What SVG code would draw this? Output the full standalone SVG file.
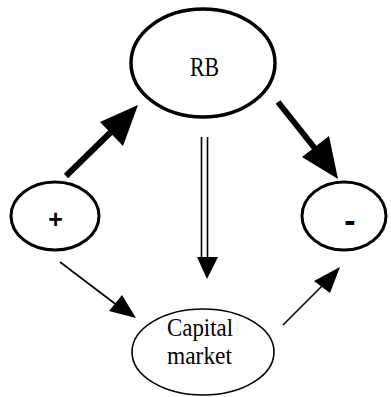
<svg xmlns="http://www.w3.org/2000/svg" width="391" height="397" viewBox="0 0 391 397">
<style>
.t{font-family:"Liberation Serif","Times New Roman",serif;fill:#000;text-anchor:middle;font-size:22px}
.s{font-family:"Liberation Sans",Arial,sans-serif;font-weight:bold;fill:#000;text-anchor:middle}
.n{fill:#fff;stroke:#000}
.thick{stroke:#000;stroke-width:6;fill:none}
.thin{stroke:#000;stroke-width:1.6;fill:none}
.head{fill:#000}
</style>
<rect width="391" height="397" fill="#fff"/>
<g id="connectors">
  <line class="thick" x1="66" y1="176" x2="112" y2="131"/>
  <polygon class="head" points="138,105 100,122 123,146"/>
  <line class="thick" x1="278" y1="102" x2="317" y2="151"/>
  <polygon class="head" points="338,179 302,157 329,136"/>
  <line class="thin" x1="201.5" y1="137" x2="201.5" y2="260"/>
  <line class="thin" x1="207.5" y1="137" x2="207.5" y2="260"/>
  <polygon class="head" points="207,279 197,257 218,257"/>
  <line class="thin" x1="60" y1="262" x2="118" y2="306"/>
  <polygon class="head" points="136,318 109,311 122,295"/>
  <line class="thin" x1="283" y1="325" x2="322" y2="286"/>
  <polygon class="head" points="340,267 330,293 314,281"/>
</g>
<g id="rb">
  <ellipse class="n" cx="203" cy="63" rx="72" ry="54" stroke-width="3.5"/>
  <text class="t" transform="translate(204.5,76) scale(1,1.2)" x="0" y="0" textLength="29" lengthAdjust="spacingAndGlyphs">RB</text>
</g>
<g id="plus">
  <ellipse class="n" cx="55" cy="216" rx="44" ry="34" stroke-width="3"/>
  <text class="s" x="55.5" y="228" font-size="25">+</text>
</g>
<g id="minus">
  <ellipse class="n" cx="344" cy="216" rx="42" ry="34" stroke-width="3"/>
  <text class="s" x="350" y="232" font-size="34">-</text>
</g>
<g id="capital">
  <ellipse class="n" cx="203" cy="352" rx="71" ry="43" stroke-width="1.6"/>
  <text class="t" transform="translate(200,336) scale(1,1.1)" x="0" y="0" textLength="66" lengthAdjust="spacingAndGlyphs">Capital</text>
  <text class="t" transform="translate(199.5,364) scale(1,1.1)" x="0" y="0" textLength="65" lengthAdjust="spacingAndGlyphs">market</text>
</g>
</svg>
